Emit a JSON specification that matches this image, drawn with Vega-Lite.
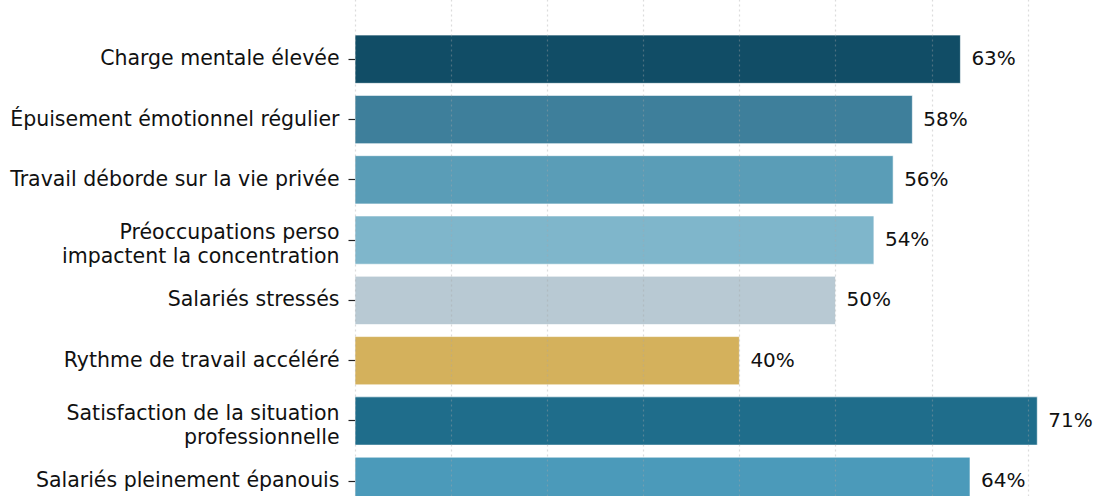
{
  "$schema": "https://vega.github.io/schema/vega-lite/v6.json",
  "autosize": {"type": "none"},
  "padding": {"left": 355, "top": 12, "right": 0, "bottom": 0},
  "width": 738,
  "height": 484,
  "background": "white",
  "config": {
    "view": {"stroke": null},
    "font": "DejaVu Sans"
  },
  "data": {
    "values": [
      {"category": "Charge mentale élevée", "value": 0.63, "color": "c1"},
      {"category": "Épuisement émotionnel régulier", "value": 0.58, "color": "c2"},
      {"category": "Travail déborde sur la vie privée", "value": 0.56, "color": "c3"},
      {"category": "Préoccupations perso\u00a0|impactent la concentration", "value": 0.54, "color": "c4"},
      {"category": "Salariés stressés", "value": 0.50, "color": "c5"},
      {"category": "Rythme de travail accéléré", "value": 0.40, "color": "c6"},
      {"category": "Satisfaction de la situation\u00a0|professionnelle", "value": 0.71, "color": "c7"},
      {"category": "Salariés pleinement épanouis", "value": 0.64, "color": "c8"}
    ]
  },
  "encoding": {
    "y": {
      "field": "category",
      "type": "nominal",
      "sort": null,
      "scale": {"range": [0, 516.5], "paddingInner": 0.2, "paddingOuter": 0.383},
      "axis": {
        "title": null,
        "domain": false,
        "ticks": true,
        "tickSize": 7,
        "tickColor": "#222222",
        "tickWidth": 1.2,
        "labelPadding": 9,
        "labelFontSize": 20.5,
        "labelColor": "#111111",
        "labelLineHeight": 24,
        "labelLimit": 400,
        "labelOffset": {"condition": {"test": "indexof(datum.label, '|') >= 0", "value": -7}, "value": 0},
        "labelExpr": "split(datum.label, '|')"
      }
    },
    "x": {
      "field": "value",
      "type": "quantitative",
      "scale": {"domain": [0, 0.768], "nice": false},
      "axis": {
        "title": null,
        "labels": false,
        "ticks": false,
        "domain": false,
        "values": [0, 0.1, 0.2, 0.3, 0.4, 0.5, 0.6, 0.7],
        "grid": true,
        "gridColor": "#a8a8a8",
        "gridOpacity": 0.4,
        "gridDash": [2, 3],
        "gridWidth": 1.2,
        "zindex": 1
      }
    }
  },
  "layer": [
    {
      "mark": {"type": "bar", "clip": true, "stroke": "white", "strokeWidth": 0.6},
      "encoding": {
        "color": {
          "field": "color",
          "type": "nominal",
          "scale": {
            "domain": ["c1", "c2", "c3", "c4", "c5", "c6", "c7", "c8"],
            "range": ["#114d66", "#3e7f9b", "#5a9db7", "#7fb6cb", "#b8c9d3", "#d4b15c", "#1f6d8b", "#4b9aba"]
          },
          "legend": null
        }
      }
    },
    {
      "mark": {"type": "text", "align": "left", "baseline": "middle", "dx": 11, "fontSize": 20, "color": "#111111", "clip": true},
      "encoding": {
        "text": {"field": "value", "type": "quantitative", "format": ".0%"}
      }
    }
  ]
}
